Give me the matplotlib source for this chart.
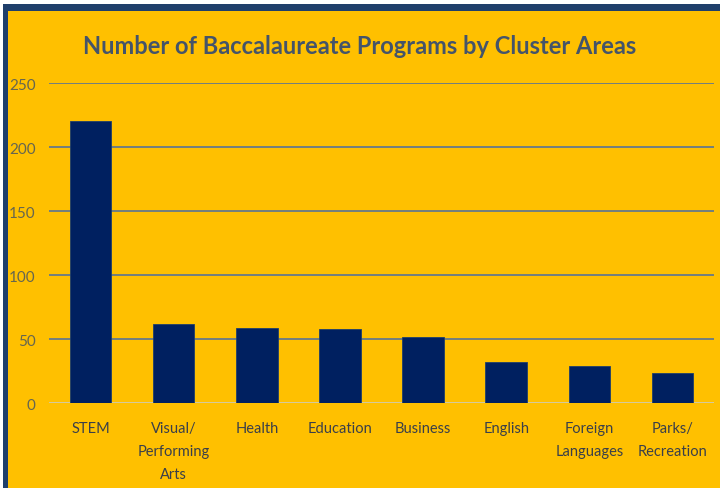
import matplotlib
matplotlib.use("Agg")
import matplotlib.pyplot as plt
from matplotlib.patches import Rectangle

# data
categories = ["STEM", "Visual/\nPerforming\nArts", "Health", "Education", "Business",
              "English", "Foreign\nLanguages", "Parks/\nRecreation"]
programs = [220, 62, 59, 58, 52, 32, 29, 24]
yticks = [0, 50, 100, 150, 200, 250]

GOLD = "#FFC000"
NAVY = "#002060"
BORDER = "#1F3F6B"
TEXT = "#44546A"

plt.rcParams['font.family'] = ['Lato', 'DejaVu Sans']

fig = plt.figure(figsize=(7.2, 4.89), dpi=100, facecolor="white")
# frame: dark blue border on top/left, gold fill
fig.patches.append(Rectangle((3 / 720, 0), 1, 1 - 5 / 489, transform=fig.transFigure,
                             facecolor=BORDER, edgecolor="none", zorder=-2))
fig.patches.append(Rectangle((8 / 720, 0), 1, 1 - 12 / 489, transform=fig.transFigure,
                             facecolor=GOLD, edgecolor="none", zorder=-1))

ax = fig.add_axes([49 / 720, 1 - 404.3 / 489, 665 / 720, (404.3 - 84) / 489])
ax.set_facecolor("none")
x = range(len(categories))
ax.bar(x, programs, width=0.5, color=NAVY, edgecolor="#1F3F6B", linewidth=0.6, zorder=3)
ax.set_xlim(-0.5, len(categories) - 0.5)
ax.set_ylim(0, 250)
ax.set_yticks(yticks)
ax.set_xticks(list(x))
ax.set_xticklabels(categories, linespacing=1.8, va="top")
for s in ax.spines.values():
    s.set_visible(False)
ax.grid(axis="y", color="#5A7494", linewidth=1.2, zorder=1)
ax.axhline(0, color="#F5E3A8", linewidth=1.8, zorder=2)
ax.tick_params(axis="both", length=0, labelsize=10.5)
ax.tick_params(axis="y", pad=9.5, labelcolor="#666650", labelsize=11)
ax.tick_params(axis="x", pad=13, labelcolor="#3A3F4A")

fig.text(0.5, 1 - 47 / 489, "Number of Baccalaureate Programs by Cluster Areas",
         ha="center", va="center", fontsize=17, fontweight="bold", color=TEXT)

fig.savefig("out.png", dpi=100, facecolor=fig.get_facecolor())
